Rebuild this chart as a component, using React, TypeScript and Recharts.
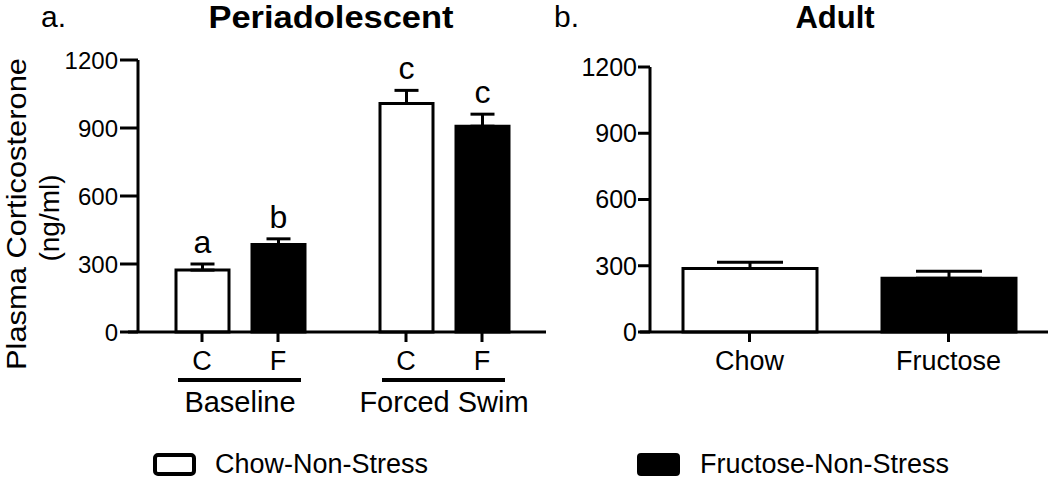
import React from "react";
import { BarChart, Bar, XAxis, YAxis, ErrorBar, LabelList, Cell } from "recharts";

// Periadolescent panel
const conditions = ["Baseline", "Forced Swim"];
const chowMeans = [273, 1008];
const chowErrs = [27, 58];
const chowLetters = ["a", "c"];
const fructoseMeans = [386, 908];
const fructoseErrs = [25, 53];
const fructoseLetters = ["b", "c"];
const dietTicks = ["C", "F"];

// Adult panel
const adultGroups = ["Chow", "Fructose"];
const adultMeans = [288, 243];
const adultErrs = [28, 32];
const adultFills = ["#fff", "#000"];

const yTicks = [0, 300, 600, 900, 1200];
const legendLabels = ["Chow-Non-Stress", "Fructose-Non-Stress"];

const FONT = "'Liberation Sans', Arial, Helvetica, sans-serif";
const BAR_A = 53;
const GAP_A = 23;

const periData = conditions.map((c, i) => ({
  condition: c,
  chow: chowMeans[i],
  chowErr: [0, chowErrs[i]],
  chowLetter: chowLetters[i],
  fructose: fructoseMeans[i],
  fructoseErr: [0, fructoseErrs[i]],
  fructoseLetter: fructoseLetters[i],
}));

const adultData = adultGroups.map((g, i) => ({
  group: g,
  value: adultMeans[i],
  err: [0, adultErrs[i]],
}));

// letter sits just above the error bar cap
const letterContent = (means: number[], errs: number[]) => (props: any) => {
  const vb = props.viewBox ?? props;
  const { x, y, width, height } = vb;
  const i = props.index ?? 0;
  const pxPerUnit = height / means[i];
  const top = y - errs[i] * pxPerUnit;
  return (
    <text x={x + width / 2} y={top - 11} textAnchor="middle" fontSize={32} fontFamily={FONT} fill="#000">
      {props.value}
    </text>
  );
};

const GroupTick = (props: any) => {
  const { x, y, payload } = props;
  const half = (BAR_A + GAP_A) / 2;
  return (
    <g>
      {dietTicks.map((d, k) => {
        const tx = x + (k === 0 ? -half : half);
        return (
          <g key={d}>
            <line x1={tx} x2={tx} y1={y} y2={y + 10} stroke="#000" strokeWidth={3} />
            <text x={tx} y={y + 38} textAnchor="middle" fontSize={27} fontFamily={FONT} fill="#000">
              {d}
            </text>
          </g>
        );
      })}
      <line x1={x - 62} x2={x + 61} y1={y + 48} y2={y + 48} stroke="#000" strokeWidth={4} />
      <text x={x} y={y + 80} textAnchor="middle" fontSize={29} fontFamily={FONT} fill="#000">
        {payload.value}
      </text>
    </g>
  );
};

const AdultTick = (props: any) => {
  const { x, y, payload } = props;
  return (
    <g>
      <line x1={x} x2={x} y1={y} y2={y + 10} stroke="#000" strokeWidth={3} />
      <text x={x} y={y + 38} textAnchor="middle" fontSize={27} fontFamily={FONT} fill="#000">
        {payload.value}
      </text>
    </g>
  );
};

const YLabel = () => (
  <g>
    <text
      x={26}
      y={214}
      transform="rotate(-90 26 214)"
      textAnchor="middle"
      fontSize={28}
      fontFamily={FONT}
      fill="#000"
      textLength={312}
      lengthAdjust="spacingAndGlyphs"
    >
      Plasma Corticosterone
    </text>
    <text
      x={59}
      y={218}
      transform="rotate(-90 59 218)"
      textAnchor="middle"
      fontSize={28}
      fontFamily={FONT}
      fill="#000"
    >
      (ng/ml)
    </text>
  </g>
);

export default function App() {
  const axisStroke = { stroke: "#000", strokeWidth: 3 };
  const shifted = { stroke: "#000", strokeWidth: 3, transform: "translate(10,0)" };

  return (
    <div
      style={{
        position: "absolute",
        left: 0,
        top: 0,
        width: 1050,
        height: 478,
        background: "#fff",
        fontFamily: FONT,
      }}
    >
      <div style={{ position: "absolute", left: 0, top: 0 }}>
        <BarChart
          width={560}
          height={440}
          data={periData}
          margin={{ top: 60, right: 14, bottom: 8, left: 0 }}
          barGap={GAP_A}
        >
          <XAxis
            dataKey="condition"
            axisLine={axisStroke}
            tickLine={false}
            tickSize={0}
            tickMargin={0}
            height={100}
            padding={{ left: 10, right: 0 }}
            interval={0}
            tick={<GroupTick />}
          />
          <YAxis
            domain={[0, 1200]}
            ticks={yTicks}
            interval={0}
            width={128}
            axisLine={shifted}
            tickLine={shifted}
            tickSize={18}
            tickMargin={-8}
            tick={{ fill: "#000", fontSize: 24, fontFamily: FONT }}
            label={{ content: () => <YLabel /> }}
          />
          <Bar dataKey="chow" barSize={BAR_A} fill="#fff" stroke="#000" strokeWidth={3} isAnimationActive={false}>
            <ErrorBar dataKey="chowErr" width={12} stroke="#000" strokeWidth={3} isAnimationActive={false} />
            <LabelList dataKey="chowLetter" content={letterContent(chowMeans, chowErrs)} />
          </Bar>
          <Bar dataKey="fructose" barSize={BAR_A} fill="#000" stroke="#000" strokeWidth={3} isAnimationActive={false}>
            <ErrorBar dataKey="fructoseErr" width={12} stroke="#000" strokeWidth={3} isAnimationActive={false} />
            <LabelList dataKey="fructoseLetter" content={letterContent(fructoseMeans, fructoseErrs)} />
          </Bar>
        </BarChart>
      </div>

      <div style={{ position: "absolute", left: 540, top: 0 }}>
        <BarChart
          width={510}
          height={440}
          data={adultData}
          margin={{ top: 67, right: 2, bottom: 8, left: 0 }}
        >
          <XAxis
            dataKey="group"
            axisLine={axisStroke}
            tickLine={false}
            tickSize={0}
            tickMargin={0}
            height={100}
            padding={{ left: 10, right: 0 }}
            interval={0}
            tick={<AdultTick />}
          />
          <YAxis
            domain={[0, 1200]}
            ticks={yTicks}
            interval={0}
            width={100}
            axisLine={shifted}
            tickLine={shifted}
            tickSize={12}
            tickMargin={-9}
            tick={{ fill: "#000", fontSize: 25, fontFamily: FONT }}
          />
          <Bar dataKey="value" barSize={134} stroke="#000" strokeWidth={3} isAnimationActive={false}>
            {adultData.map((d, i) => (
              <Cell key={d.group} fill={adultFills[i]} />
            ))}
            <ErrorBar dataKey="err" width={33} stroke="#000" strokeWidth={3} isAnimationActive={false} />
          </Bar>
        </BarChart>
      </div>

      <svg
        width={1050}
        height={478}
        style={{ position: "absolute", left: 0, top: 0, pointerEvents: "none" }}
        fontFamily={FONT}
      >
        <text x={41} y={27} fontSize={30} fill="#000">a.</text>
        <text
          x={331}
          y={28}
          fontSize={31}
          fontWeight="bold"
          textAnchor="middle"
          fill="#000"
          textLength={245}
          lengthAdjust="spacingAndGlyphs"
        >
          Periadolescent
        </text>
        <text x={554} y={27} fontSize={30} fill="#000">b.</text>
        <text x={835} y={28} fontSize={31} fontWeight="bold" textAnchor="middle" fill="#000">
          Adult
        </text>

        <rect x={155} y={455} width={39} height={19} rx={3} fill="#fff" stroke="#000" strokeWidth={4} />
        <text x={215} y={473} fontSize={27} fill="#000">{legendLabels[0]}</text>
        <rect x={638} y={454} width={41} height={21} rx={3} fill="#000" stroke="#000" strokeWidth={2} />
        <text x={700} y={473} fontSize={27} fill="#000">{legendLabels[1]}</text>
      </svg>
    </div>
  );
}
